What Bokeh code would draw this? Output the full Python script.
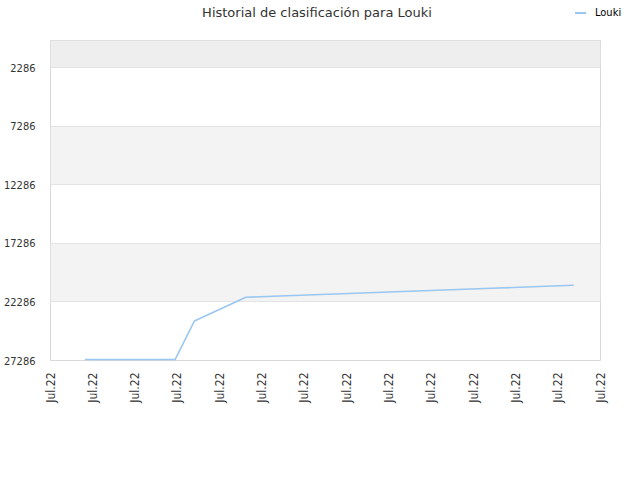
import math
from bokeh.plotting import figure
from bokeh.layouts import column
from bokeh.models import Range1d, FixedTicker, Div
from bokeh.embed import file_html
from bokeh.resources import INLINE

chart_title = "Historial de clasificación para Louki"
series_name = "Louki"
line_color = "#99c7f2"

# x positions in label-interval units (0 = first "Jul.22" tick)
x_days = [0.816, 2.945, 3.40, 4.618, 5.264, 5.91, 6.555, 7.201, 7.847,
          8.493, 9.139, 9.785, 10.43, 11.076, 11.722, 12.368]
ranks = [27210, 27210, 23920, 21885, 21800, 21715, 21630, 21545, 21460,
         21375, 21290, 21205, 21120, 21035, 20950, 20865]

x_tick_positions = list(range(14))
x_tick_labels = ["Jul.22"] * 14
y_ticks = [2286, 7286, 12286, 17286, 22286, 27286]
y_top = -46

W = 624
HH = 39

# ---------- header: title + legend ----------
header_html = (
    f'<div style="position:relative;width:{W}px;height:{HH}px;margin:0;padding:0;">'
    f'<div style="position:absolute;left:0;top:5px;width:634px;text-align:center;'
    f'font-family:\'DejaVu Sans\';font-size:13px;line-height:16px;color:#333333;'
    f'white-space:nowrap;">{chart_title}</div>'
    f'<div style="position:absolute;left:575px;top:12px;width:11px;height:2px;'
    f'background:{line_color};"></div>'
    f'<div style="position:absolute;left:595px;top:5px;font-family:\'DejaVu Sans Condensed\';'
    f'font-size:11px;line-height:16px;color:#000000;white-space:nowrap;">{series_name}</div>'
    f'</div>'
)
head = Div(text=header_html, width=W, height=HH, margin=0,
           styles={"overflow": "visible", "padding": "0", "margin": "0"})

# ---------- main chart ----------
p = figure(width=W, height=424, output_backend="svg", toolbar_location=None,
           x_range=Range1d(0, 13), y_range=Range1d(27286, y_top),
           min_border_left=50, min_border_right=24, min_border_top=1,
           min_border_bottom=103)

band_tops = [y_top] + y_ticks[1:-1:2]
band_bottoms = [y_ticks[0]] + y_ticks[2::2]
band_colors = ["#eeeeee"] + ["#f3f3f3"] * (len(band_tops) - 1)
p.quad(left=0, right=13, top=band_tops, bottom=band_bottoms,
       fill_color=band_colors, line_color=None, level="underlay")

p.line(x_days, ranks, line_color=line_color, line_width=1.6)

p.xaxis.ticker = FixedTicker(ticks=x_tick_positions)
p.xaxis.major_label_overrides = {t: l for t, l in zip(x_tick_positions, x_tick_labels)}
p.xaxis.major_label_orientation = math.pi / 2
p.xaxis.major_label_text_font = "DejaVu Sans Condensed"
p.xaxis.major_label_text_font_size = "12px"
p.xaxis.major_label_text_color = "#333333"
p.xaxis.major_label_standoff = 6

p.yaxis.ticker = FixedTicker(ticks=y_ticks)
p.yaxis.major_label_text_font = "DejaVu Sans Condensed"
p.yaxis.major_label_text_font_size = "11px"
p.yaxis.major_label_text_color = "#333333"
p.yaxis.major_label_standoff = 9

for ax in (p.xaxis, p.yaxis):
    ax.axis_line_color = None
    ax.major_tick_line_color = None
    ax.minor_tick_line_color = None

p.xgrid.grid_line_color = None
p.ygrid.grid_line_color = "#e3e3e3"
p.outline_line_color = "#d8d8d8"

layout = column(head, p, spacing=0)
open("out.html", "w").write(file_html(layout, INLINE))
